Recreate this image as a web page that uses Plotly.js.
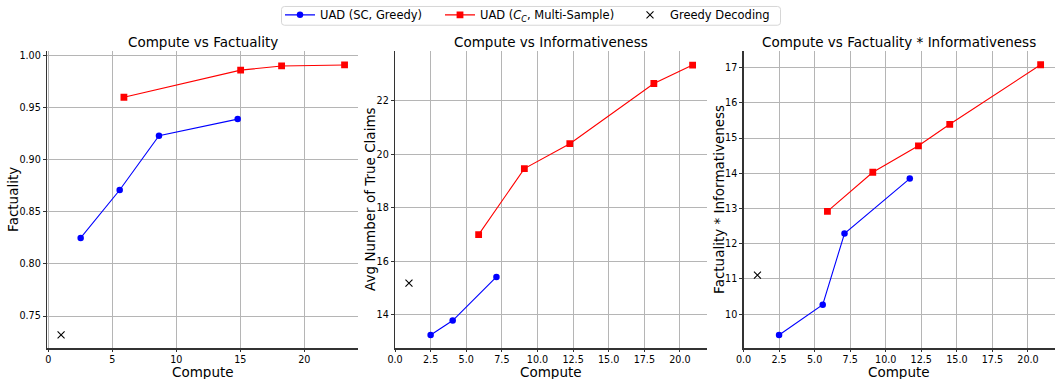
<!DOCTYPE html>
<html>
<head>
<meta charset="utf-8">
<script src="https://cdn.plot.ly/plotly-3.0.1.min.js"></script>
<style>html,body{margin:0;padding:0;background:#fff;}#chart{width:1056px;height:379px;}</style>
</head>
<body>
<div id="chart"></div>
<script>
// ---- data ----
const factSCx = [2.53, 5.58, 8.65, 14.8];
const factSCy = [0.825, 0.871, 0.923, 0.939];
const factMSx = [5.91, 15.03, 18.23, 23.15];
const factMSy = [0.960, 0.986, 0.990, 0.991];
const factGreedyX = [1.0];
const factGreedyY = [0.732];

const infoSCx = [2.50, 4.05, 7.12];
const infoSCy = [13.24, 13.78, 15.41];
const infoMSx = [5.87, 9.08, 12.27, 18.17, 20.89];
const infoMSy = [16.99, 19.46, 20.39, 22.64, 23.33];
const infoGreedyX = [0.98];
const infoGreedyY = [15.18];

const prodSCx = [2.50, 5.57, 7.10, 11.69];
const prodSCy = [9.41, 10.27, 12.29, 13.85];
const prodMSx = [5.90, 9.09, 12.30, 14.50, 20.89];
const prodMSy = [12.92, 14.03, 14.78, 15.39, 17.08];
const prodGreedyX = [0.98];
const prodGreedyY = [11.11];

const seriesNames = ['UAD (SC, Greedy)', 'UAD (<i>C</i><sub><i>C</i></sub>, Multi-Sample)', 'Greedy Decoding'];
const panelTitles = ['Compute vs Factuality', 'Compute vs Informativeness', 'Compute vs Factuality * Informativeness'];
const yTitles = ['Factuality', 'Avg Number of True Claims', 'Factuality * Informativeness'];
const xTitle = 'Compute';

// ---- layout helpers (pixels -> paper) ----
const W = 1056, H = 379;
const px = v => v / W;
const py = v => 1 - v / H;
const FONT = 'DejaVu Sans, sans-serif';

const panels = [
  {sc:[factSCx,factSCy], ms:[factMSx,factMSy], gr:[factGreedyX,factGreedyY], dom:[47,358]},
  {sc:[infoSCx,infoSCy], ms:[infoMSx,infoMSy], gr:[infoGreedyX,infoGreedyY], dom:[395,707]},
  {sc:[prodSCx,prodSCy], ms:[prodMSx,prodMSy], gr:[prodGreedyX,prodGreedyY], dom:[743.5,1055]}
];

const traces = [];
panels.forEach((p, i) => {
  const xa = i === 0 ? 'x' : 'x' + (i + 1);
  const ya = i === 0 ? 'y' : 'y' + (i + 1);
  traces.push({x:p.sc[0], y:p.sc[1], xaxis:xa, yaxis:ya, type:'scatter', mode:'lines+markers',
    name:seriesNames[0], legend:'legend', showlegend:i===0,
    line:{color:'#0000ff', width:1.1}, marker:{color:'#0000ff', size:6.5, symbol:'circle'}});
  traces.push({x:p.ms[0], y:p.ms[1], xaxis:xa, yaxis:ya, type:'scatter', mode:'lines+markers',
    name:seriesNames[1], legend:'legend2', showlegend:i===0,
    line:{color:'#ff0000', width:1.1}, marker:{color:'#ff0000', size:6.8, symbol:'square'}});
  traces.push({x:p.gr[0], y:p.gr[1], xaxis:xa, yaxis:ya, type:'scatter', mode:'markers',
    name:seriesNames[2], legend:'legend3', showlegend:i===0,
    marker:{color:'#000000', size:7, symbol:'x-thin', line:{color:'#000000', width:1.1}}});
});

const axBase = {
  showgrid:true, gridcolor:'#b5b5b5', gridwidth:1, zeroline:false,
  showline:true, linecolor:'#333333', linewidth:1.3, mirror:false,
  ticks:'outside', ticklen:3, tickwidth:1, tickcolor:'#333333',
  tickfont:{family:FONT, size:9.6, color:'#000'}, automargin:false, fixedrange:true
};
const xBase = Object.assign({}, axBase, {ticklen:2});
const yDom = [1 - 348/H, 1 - 47/H];

const layout = {
  width:W, height:H, margin:{l:0, r:0, t:0, b:0},
  paper_bgcolor:'#fff', plot_bgcolor:'#fff',
  font:{family:FONT, color:'#000'},
  xaxis: Object.assign({}, xBase, {domain:[px(47),px(358)], range:[-0.1,24.2], tick0:0, dtick:5, anchor:'y'}),
  yaxis: Object.assign({}, axBase, {domain:yDom, range:[0.719,1.004], tick0:0, dtick:0.05, tickformat:'.2f', anchor:'x'}),
  xaxis2: Object.assign({}, xBase, {domain:[px(395),px(707)], range:[0.0,21.9], tick0:0, dtick:2.5, tickformat:'.1f', anchor:'y2'}),
  yaxis2: Object.assign({}, axBase, {domain:yDom, range:[12.74,23.84], tick0:0, dtick:2, anchor:'x2'}),
  xaxis3: Object.assign({}, xBase, {domain:[px(743.5),px(1055)], range:[0.0,21.9], tick0:0, dtick:2.5, tickformat:'.1f', anchor:'y3'}),
  yaxis3: Object.assign({}, axBase, {domain:yDom, range:[9.03,17.46], tick0:0, dtick:1, anchor:'x3'}),
  showlegend:true,
  legend:  {orientation:'h', x:px(280), xanchor:'left', y:py(10), yanchor:'middle', bgcolor:'rgba(0,0,0,0)', borderwidth:0, font:{family:FONT, size:11.5}},
  legend2: {orientation:'h', x:px(440), xanchor:'left', y:py(10), yanchor:'middle', bgcolor:'rgba(0,0,0,0)', borderwidth:0, font:{family:FONT, size:11.5}},
  legend3: {orientation:'h', x:px(630), xanchor:'left', y:py(10), yanchor:'middle', bgcolor:'rgba(0,0,0,0)', borderwidth:0, font:{family:FONT, size:11.5}},
  annotations: [],
  shapes: []
};

// legend frame
(function(){
  const x0 = px(281.5), x1 = px(780.5), y0 = py(20.5), y1 = py(1.5);
  const rx = px(3), ry = 3/H;
  layout.shapes.push({type:'path', xref:'paper', yref:'paper', layer:'below',
    path:`M${x0+rx},${y1} L${x1-rx},${y1} Q${x1},${y1} ${x1},${y1-ry} L${x1},${y0+ry} Q${x1},${y0} ${x1-rx},${y0} L${x0+rx},${y0} Q${x0},${y0} ${x0},${y0+ry} L${x0},${y1-ry} Q${x0},${y1} ${x0+rx},${y1} Z`,
    line:{color:'#d6d6d6', width:1}, fillcolor:'rgba(255,255,255,0.8)'});
})();

const yTitleX = [13, 370, 719];
panels.forEach((p, i) => {
  const cx = (p.dom[0] + p.dom[1]) / 2;
  layout.annotations.push({text:panelTitles[i], xref:'paper', yref:'paper', x:px(cx), y:py(37.5), xanchor:'center', yanchor:'middle', showarrow:false, font:{family:FONT, size:13.5, color:'#000'}});
  layout.annotations.push({text:xTitle, xref:'paper', yref:'paper', x:px(cx), y:py(372), xanchor:'center', yanchor:'middle', borderpad:0, showarrow:false, font:{family:FONT, size:13.5, color:'#000'}});
  layout.annotations.push({text:yTitles[i], xref:'paper', yref:'paper', x:px(yTitleX[i]), y:py(197.5), xanchor:'center', yanchor:'middle', textangle:-90, showarrow:false, font:{family:FONT, size:13.5, color:'#000'}});
});

Plotly.newPlot('chart', traces, layout, {displayModeBar:false, staticPlot:true});
</script>
</body>
</html>
